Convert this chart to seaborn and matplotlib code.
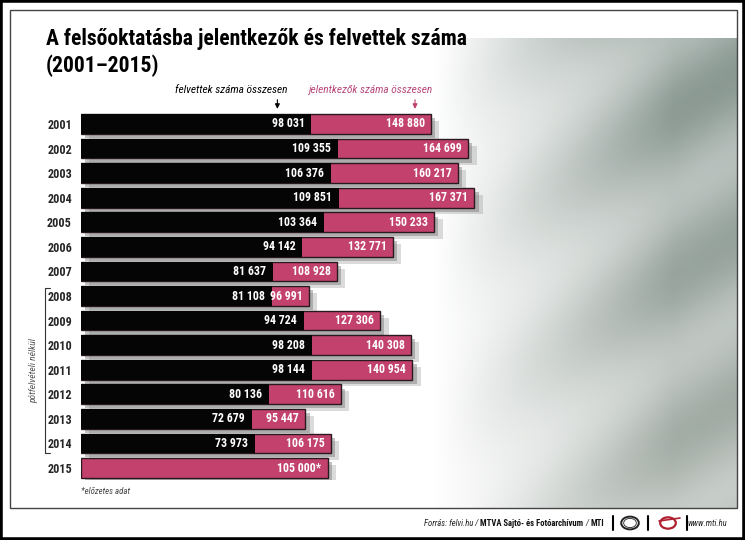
import numpy as np
import pandas as pd
import matplotlib
matplotlib.use("Agg")
import matplotlib.pyplot as plt
import matplotlib.patheffects as pe
from matplotlib.patches import Rectangle, Circle
from matplotlib.text import Annotation
from matplotlib import font_manager as fm
import seaborn as sns

# data
years = ["2001", "2002", "2003", "2004", "2005", "2006", "2007", "2008",
         "2009", "2010", "2011", "2012", "2013", "2014", "2015"]
admitted = [98031, 109355, 106376, 109851, 103364, 94142, 81637, 81108,
            94724, 98208, 98144, 80136, 72679, 73973, np.nan]
applicants = [148880, 164699, 160217, 167371, 150233, 132771, 108928, 96991,
              127306, 140308, 140954, 110616, 95447, 106175, 105000]
preliminary = ["2015"]

title = "A felsőoktatásba jelentkezők és felvettek száma\n(2001–2015)"
lab_admitted = "felvettek száma összesen"
lab_applicants = "jelentkezők száma összesen"
bracket_text = "pótfelvételi nélkül"
footnote = "*előzetes adat"

PINK = "#c2416d"
BLACK = "#050505"

# pick a condensed sans if one is installed
installed = {f.name for f in fm.fontManager.ttflist}
prefs = ["Roboto Condensed", "Archivo Narrow", "PT Sans Narrow", "Arial Narrow",
         "Liberation Sans Narrow", "Barlow Semi Condensed", "Open Sans Condensed",
         "Roboto", "Liberation Sans"]
COND = next((f for f in prefs if f in installed), "DejaVu Sans")

sns.set_style("white")
plt.rcParams["font.family"] = [COND, "DejaVu Sans"]

df = pd.DataFrame({"year": years, "admitted": admitted, "applicants": applicants})

W, H = 745, 540
fig = plt.figure(figsize=(W / 100, H / 100), dpi=100)
fig.patch.set_facecolor("white")

def px(x0, y0, w, h):
    # pixel box (top-left origin) -> figure fraction
    return [x0 / W, 1 - (y0 + h) / H, w / W, h / H]

# photo-like backdrop on the right
bg = fig.add_axes(px(400, 38, 337, 470), zorder=0)
gx = np.linspace(0, 1, 300)
gy = np.linspace(0, 1, 400)
XX, YY = np.meshgrid(gx, gy)
alpha = np.clip((XX - 0.1) * 1.4, 0, 1) * (0.55 + 0.3 * np.sin(YY * 9 + XX * 4) ** 2)
img = np.zeros((400, 300, 4))
img[..., 0] = 0.45 + 0.15 * YY
img[..., 1] = 0.52 + 0.12 * YY
img[..., 2] = 0.49 + 0.12 * YY
img[..., 3] = np.clip(alpha, 0, 0.85)
bg.imshow(img, aspect="auto", interpolation="bilinear")
bg.axis("off")

ax = fig.add_axes([81 / W, 1 - 480.3 / H, (737 - 81) / W, (480.3 - 111.7) / H], zorder=2)
ax.patch.set_alpha(0)

sns.barplot(data=df, x="applicants", y="year", order=years, orient="h",
            color=PINK, saturation=1, width=0.8, edgecolor="#2a1a20",
            linewidth=1.0, ax=ax, zorder=2)
# soft two-step drop shadow
for p in ax.patches:
    p.set_path_effects([pe.SimplePatchShadow(offset=(6, -5), shadow_rgbFace="#999999", alpha=0.35),
                        pe.SimplePatchShadow(offset=(3, -3), shadow_rgbFace="#777777", alpha=0.45),
                        pe.Normal()])
sns.barplot(data=df, x="admitted", y="year", order=years, orient="h",
            color=BLACK, saturation=1, width=0.8, linewidth=0, ax=ax, zorder=3)

ax.set_xlim(0, (737 - 81) / 0.002351)
ax.set_ylim(len(years) - 0.5, -0.5)
ax.set_xlabel("")
ax.set_ylabel("")
ax.set_xticks([])
sns.despine(ax=ax, left=True, bottom=True)
ax.tick_params(axis="y", length=0, pad=6.5)
for t in ax.get_yticklabels():
    t.set_fontweight("bold")
    t.set_fontsize(8.7)

def fmt(v):
    return f"{int(v):,}".replace(",", " ")

for i, yr in enumerate(years):
    a = admitted[i]
    b = applicants[i]
    if not np.isnan(a):
        ax.annotate(fmt(a), (a, i), xytext=(-5, 0), textcoords="offset points",
                    ha="right", va="center", color="white", fontsize=8.6,
                    fontweight="bold", zorder=5)
    lab = fmt(b) + ("*" if yr in preliminary else "")
    ax.annotate(lab, (b, i), xytext=(-4.5, 0), textcoords="offset points",
                ha="right", va="center", color="white", fontsize=8.6,
                fontweight="bold", zorder=5)

# series captions with arrows
ax.annotate("", xy=(admitted[0] - 14500, -0.5), xytext=(admitted[0] - 14500, -1.1),
            arrowprops=dict(arrowstyle="-|>", color="black", lw=0.8,
                            mutation_scale=7), annotation_clip=False)
ax.text(admitted[0] - 10200, -1.4, lab_admitted, ha="right", va="center",
        fontsize=8.2, style="italic", color="black", clip_on=False)
ax.annotate("", xy=(applicants[0] - 6800, -0.5), xytext=(applicants[0] - 6800, -1.1),
            arrowprops=dict(arrowstyle="-|>", color=PINK, lw=0.8,
                            mutation_scale=7), annotation_clip=False)
ax.text(applicants[0] + 600, -1.4, lab_applicants, ha="right", va="center",
        fontsize=8.2, style="italic", color="#b8487a", clip_on=False)

# title
fig.text(46 / W, 1 - 28 / H, title, ha="left", va="top", fontsize=15.6,
         fontweight="bold", color="black", linespacing=1.25)

# bracket for 2008-2014
fig.add_artist(plt.Line2D([50 / W, 45 / W, 45 / W, 50 / W],
                          [1 - 288 / H, 1 - 288 / H, 1 - 453 / H, 1 - 453 / H],
                          color="#333333", lw=0.8))
fig.text(34 / W, 1 - 371 / H, bracket_text, rotation=90, ha="center", va="center",
         fontsize=6.8, style="italic", color="#555555")

fig.text(81 / W, 1 - 492 / H, footnote, ha="left", va="center", fontsize=6.3,
         style="italic", color="#444444")

# frames
fig.add_artist(Rectangle((10 / W, 1 - 508 / H), 727 / W, 498 / H, fill=False,
                         edgecolor="#444444", lw=1.0, zorder=10))
fig.add_artist(Rectangle((0, 0), 1, 1, fill=False, edgecolor="black", lw=4, zorder=10))

# footer, chained left to right
fy = 1 - 523 / H
FS = 6.2
t1 = fig.text(424 / W, fy, "Forrás: felvi.hu / ", ha="left", va="center", fontsize=FS,
              style="italic", color="#222222")
t2 = fig.add_artist(Annotation("MTVA Sajtó- és Fotóarchívum", xy=(1, 0.5), xycoords=t1,
                               ha="left", va="center", fontsize=FS, fontweight="bold",
                               color="#111111"))
t3 = fig.add_artist(Annotation(" / ", xy=(1, 0.5), xycoords=t2, ha="left", va="center",
                               fontsize=FS, style="italic", color="#222222"))
fig.add_artist(Annotation("MTI", xy=(1, 0.5), xycoords=t3, ha="left", va="center",
                          fontsize=FS, fontweight="bold", color="#111111"))
for xx in (613, 648, 687):
    fig.add_artist(plt.Line2D([xx / W, xx / W], [1 - 516 / H, 1 - 530 / H],
                              color="black", lw=1.5))
fig.add_artist(Circle((630 / W, fy), 0.0118, transform=fig.transFigure, fill=False,
                      edgecolor="#222222", lw=1.4))
fig.add_artist(Circle((630 / W, fy), 0.0085, transform=fig.transFigure, fill=False,
                      edgecolor="#222222", lw=0.6))
fig.add_artist(Circle((668 / W, fy), 0.0105, transform=fig.transFigure, fill=False,
                      edgecolor="#b02030", lw=1.6))
fig.add_artist(plt.Line2D([659 / W, 680 / W], [1 - 521 / H, 1 - 518 / H],
                          color="#b02030", lw=1.2))
fig.text(727 / W, fy, "www.mti.hu", ha="right", va="center", fontsize=FS,
         style="italic", color="#222222")

fig.savefig("out.png", dpi=100, facecolor="white")
